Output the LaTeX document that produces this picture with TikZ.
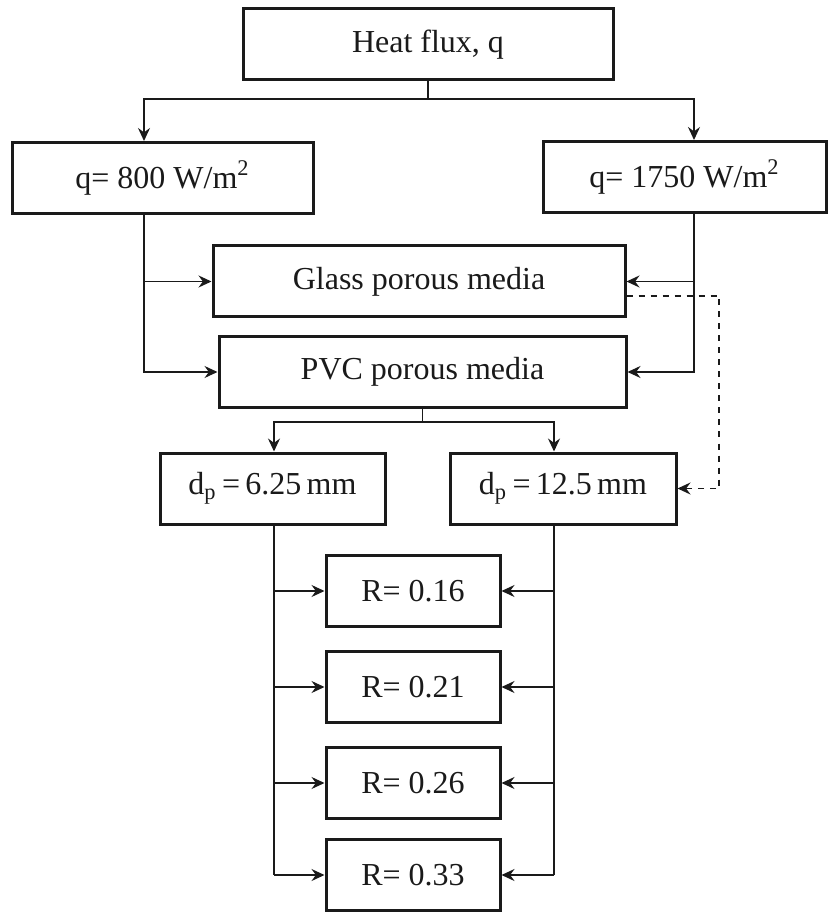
\documentclass[tikz,border=0pt]{standalone}
\usepackage{fontspec}
\setmainfont{Liberation Serif}
\usepackage{tikz}
\usetikzlibrary{arrows.meta}
\definecolor{ink}{HTML}{1A1A1A}
\newcommand{\wm}{W/m\textsuperscript{2}}

\begin{document}
\begin{tikzpicture}[x=0.5pt,y=-0.5pt,
    box/.style={draw=ink,line width=1.5pt,fill=white,text=ink,inner sep=0pt,
      minimum height=35.5pt,font=\fontsize{16}{19}\selectfont},
    arr/.style={draw=ink,line width=0.75pt,-{Stealth[length=6.5pt,width=6pt,inset=2.2pt]}},
    wire/.style={draw=ink,line width=0.75pt}]
  \useasboundingbox (0,0) rectangle (834,913);
  % boxes
  \node[box,minimum width=185pt] (heat) at (428,44.5) {Heat flux, q};
  \node[box,minimum width=150.5pt] (q800) at (162.5,178) {q= 800 \wm};
  \node[box,minimum width=141.5pt] (q1750) at (684.5,177) {q= 1750 \wm};
  \node[box,minimum width=206pt] (glass) at (419,281.5) {Glass porous media};
  \node[box,minimum width=203.5pt] (pvc) at (422.5,372) {PVC porous media};
  \node[box,minimum width=112.5pt] (dp6) at (272.5,488.5) {d\textsubscript{p}\,=\,6.25\,mm};
  \node[box,minimum width=113pt] (dp12) at (563,488.5) {d\textsubscript{p}\,=\,12.5\,mm};
  \node[box,minimum width=87pt] (r1) at (413,591) {R= 0.16};
  \node[box,minimum width=87pt] (r2) at (413,687) {R= 0.21};
  \node[box,minimum width=87pt] (r3) at (413,783) {R= 0.26};
  \node[box,minimum width=87pt] (r4) at (413,875) {R= 0.33};
  % bus points
  \coordinate (hL) at (144,99);
  \coordinate (hR) at (694,99);
  \coordinate (pL) at (274,422);
  \coordinate (pR) at (554,422);
  \coordinate (dsh) at (719,296);
  % heat flux split
  \draw[wire] (heat.south) -- (heat.south |- hL);
  \draw[arr] (heat.south |- hL) -| (hL |- q800.north);
  \draw[arr] (heat.south |- hR) -| (hR |- q1750.north);
  % into the media
  \draw[arr] (hL |- q800.south) |- (pvc.west);
  \draw[arr] (hL |- glass.west) -- (glass.west);
  \draw[arr] (hR |- q1750.south) |- (pvc.east);
  \draw[arr] (hR |- glass.east) -- (glass.east);
  \draw[arr,dashed] ([yshift=-7.25pt]glass.east) -| (dsh |- dp12.east) -- (dp12.east);
  % particle size split
  \draw[wire] (pvc.south) -- (pvc.south |- pL);
  \draw[arr] (pvc.south |- pL) -| (pL |- dp6.north);
  \draw[arr] (pvc.south |- pR) -| (pR |- dp12.north);
  % ratios
  \draw[wire] (pL |- dp6.south) -- (pL |- r4.west);
  \draw[wire] (pR |- dp12.south) -- (pR |- r4.east);
  \foreach \i in {1,...,4} {
    \draw[arr] (pL |- r\i.west) -- (r\i.west);
    \draw[arr] (pR |- r\i.east) -- (r\i.east);
  }
\end{tikzpicture}
\end{document}
